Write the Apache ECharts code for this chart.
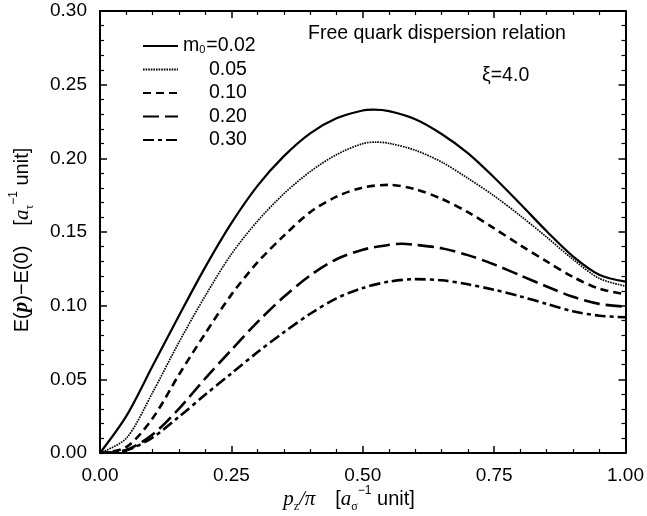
<!DOCTYPE html>
<html>
<head>
<meta charset="utf-8">
<script src="https://cdn.jsdelivr.net/npm/echarts@6/dist/echarts.min.js"></script>
<style>
html,body{margin:0;padding:0;background:#fff;}
#chart{width:647px;height:516px;}
</style>
</head>
<body>
<div id="chart"></div>
<script>
// momentum p_z/pi
var pz = [0, 0.05, 0.10, 0.15, 0.20, 0.25, 0.30, 0.35, 0.40, 0.45, 0.50, 0.55, 0.60, 0.65, 0.70, 0.75, 0.80, 0.85, 0.90, 0.95, 1.00];
var seriesNames = ['0.02', '0.05', '0.10', '0.20', '0.30'];
var m002 = [0, 0.025, 0.059, 0.093, 0.126, 0.156, 0.1815, 0.2015, 0.2170, 0.2272, 0.2325, 0.2320, 0.2265, 0.2165, 0.2035, 0.1870, 0.1690, 0.1505, 0.1335, 0.1210, 0.1163];
var m005 = [0, 0.010, 0.041, 0.075, 0.1065, 0.1350, 0.1575, 0.1760, 0.1910, 0.2025, 0.2100, 0.2102, 0.2055, 0.1975, 0.1865, 0.1745, 0.1610, 0.1465, 0.1315, 0.1185, 0.1133];
var m010 = [0, 0.004, 0.0235, 0.053, 0.081, 0.1075, 0.1295, 0.1475, 0.1635, 0.1740, 0.1802, 0.1820, 0.1790, 0.1725, 0.1635, 0.1525, 0.1410, 0.1300, 0.1195, 0.1115, 0.1077];
var m020 = [0, 0.002, 0.0125, 0.030, 0.0505, 0.0700, 0.0890, 0.1060, 0.1205, 0.1315, 0.1380, 0.1413, 0.1413, 0.1390, 0.1343, 0.1280, 0.1205, 0.1130, 0.1060, 0.1012, 0.0993];
var m030 = [0, 0.0018, 0.0105, 0.0245, 0.0395, 0.0540, 0.0685, 0.0820, 0.0945, 0.1050, 0.1120, 0.1163, 0.1180, 0.1172, 0.1145, 0.1108, 0.1063, 0.1012, 0.0962, 0.0932, 0.0921];
// maxima (null: the maximum lies on the grid)
var peakP = [0.52, 0.525, null, 0.575, null];
var peakE = [0.2330, 0.2110, null, 0.1420, null];

var allValues = [m002, m005, m010, m020, m030];
var dashes = ['solid', [1.6, 1.0], [8, 5], [16, 6], [11, 4, 4, 4]];
var widths = [2.2, 1.7, 2.6, 2.6, 2.6];

function pairs(vals, i) {
  var d = pz.map(function (p, k) { return [p, vals[k]]; });
  if (peakP[i] !== null) {
    d.push([peakP[i], peakE[i]]);
    d.sort(function (a, b) { return a[0] - b[0]; });
  }
  return d;
}

var FONT = '"Liberation Sans", Arial, Helvetica, sans-serif';
var SERIF = '"Liberation Serif", "Times New Roman", serif';

var series = seriesNames.map(function (n, i) {
  return {
    name: n,
    type: 'line',
    data: pairs(allValues[i], i),
    smooth: 0.3,
    symbol: 'none',
    showSymbol: false,
    lineStyle: { color: '#000', width: widths[i], type: dashes[i] },
    itemStyle: { color: '#000' },
    animation: false,
    z: 3
  };
});

var axisCommon = {
  axisLine: { show: true, onZero: false, lineStyle: { color: '#000', width: 2 } },
  axisTick: { show: true, inside: true, length: 7, lineStyle: { color: '#000', width: 1.5 } },
  minorTick: { show: true, splitNumber: 5, length: 4, lineStyle: { color: '#000', width: 1.2 } },
  splitLine: { show: false },
  minorSplitLine: { show: false }
};

var option = {
  backgroundColor: '#fff',
  animation: false,
  grid: { left: 100, right: 21, top: 11, bottom: 63, containLabel: false },
  legend: {
    show: true,
    orient: 'vertical',
    left: 137,
    top: 31,
    itemWidth: 35,
    itemHeight: 14,
    itemGap: 3.5,
    selectedMode: false,
    itemStyle: { opacity: 0 },
    data: seriesNames,
    formatter: function (name) {
      if (name === '0.02') return '{t|m}{s|0}{t|=0.02}';
      return '{p|' + name + '}';
    },
    textStyle: {
      color: '#000',
      fontFamily: FONT,
      fontSize: 19.5,
      lineHeight: 18,
      rich: {
        t: { fontSize: 19.5, fontFamily: FONT, color: '#000', lineHeight: 18 },
        s: { fontSize: 11, fontFamily: FONT, color: '#000', verticalAlign: 'bottom', lineHeight: 18, padding: [0, 1, 0, 0] },
        p: { fontSize: 19.5, fontFamily: FONT, color: '#000', lineHeight: 18, padding: [0, 0, 0, 26] }
      }
    }
  },
  xAxis: [
    Object.assign({}, axisCommon, {
      type: 'value', min: 0, max: 1, interval: 0.25, position: 'bottom',
      axisLabel: {
        show: true, color: '#000', fontFamily: FONT, fontSize: 19, margin: 13,
        formatter: function (v) { return v.toFixed(2); }
      }
    }),
    Object.assign({}, axisCommon, {
      type: 'value', min: 0, max: 1, interval: 0.25, position: 'top',
      axisLabel: { show: false }
    })
  ],
  yAxis: [
    Object.assign({}, axisCommon, {
      type: 'value', min: 0, max: 0.30, interval: 0.05, position: 'left',
      axisLabel: {
        show: true, color: '#000', fontFamily: FONT, fontSize: 19, margin: 13,
        formatter: function (v) { return v.toFixed(2); }
      }
    }),
    Object.assign({}, axisCommon, {
      type: 'value', min: 0, max: 0.30, interval: 0.05, position: 'right',
      axisLabel: { show: false }
    })
  ],
  graphic: [
    {
      type: 'text', left: 308, top: 24,
      style: { text: 'Free quark dispersion relation', fill: '#000', font: '19.5px ' + FONT }
    },
    {
      type: 'text', left: 482, top: 66,
      style: { text: 'ξ=4.0', fill: '#000', font: '19.5px ' + FONT }
    },
    {
      type: 'text', x: 349, y: 499,
      style: {
        text: '{pi|p}{sub|z}{pi|/π}{gap|}{br|[}{ai|a}{sub|σ}{sup|−1}{u| unit]}',
        align: 'center', verticalAlign: 'middle',
        rich: {
          pi: { fontFamily: SERIF, fontStyle: 'italic', fontSize: 21, fill: '#000', lineHeight: 28 },
          gap: { width: 20 },
          br: { fontFamily: FONT, fontSize: 20, fill: '#000' },
          ai: { fontFamily: SERIF, fontStyle: 'italic', fontSize: 21, fill: '#000' },
          sub: { fontFamily: SERIF, fontSize: 12, fill: '#000', verticalAlign: 'bottom', lineHeight: 28 },
          sup: { fontFamily: FONT, fontSize: 12, fill: '#000', verticalAlign: 'top', lineHeight: 28 },
          u: { fontFamily: FONT, fontSize: 20, fill: '#000' }
        }
      }
    },
    {
      type: 'text', x: 22, y: 240, rotation: Math.PI / 2,
      style: {
        text: '{t|E(}{bp|p}{t|)−E(0)}{gap|}{br|[}{ai|a}{sub|τ}{sup|−1}{t| unit]}',
        align: 'center', verticalAlign: 'middle',
        rich: {
          t: { fontFamily: FONT, fontSize: 20, fill: '#000', lineHeight: 28 },
          bp: { fontFamily: SERIF, fontStyle: 'italic', fontWeight: 'bold', fontSize: 21, fill: '#000' },
          gap: { width: 20 },
          br: { fontFamily: FONT, fontSize: 20, fill: '#000' },
          ai: { fontFamily: SERIF, fontStyle: 'italic', fontSize: 21, fill: '#000' },
          sub: { fontFamily: SERIF, fontSize: 12, fill: '#000', verticalAlign: 'bottom', lineHeight: 28 },
          sup: { fontFamily: FONT, fontSize: 12, fill: '#000', verticalAlign: 'top', lineHeight: 28 }
        }
      }
    }
  ],
  series: series
};

var chart = echarts.init(document.getElementById('chart'), null, { renderer: 'canvas' });
chart.setOption(option);
</script>
</body>
</html>
